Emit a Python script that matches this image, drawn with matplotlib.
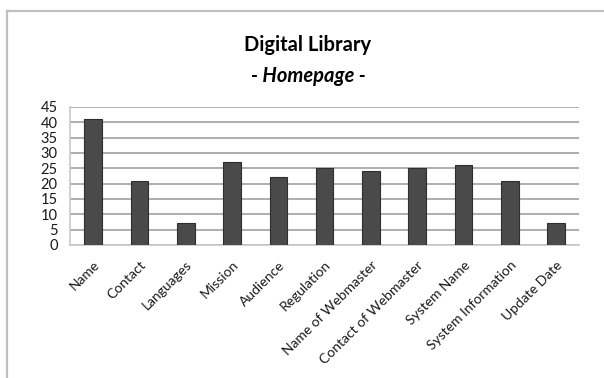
import numpy as np
import matplotlib.pyplot as plt

categories = ["Name", "Contact", "Languages", "Mission", "Audience", "Regulation",
              "Name of Webmaster", "Contact of Webmaster", "System Name",
              "System Information", "Update Date"]
values = [41, 21, 7, 27, 22, 25, 24, 25, 26, 21, 7]
yticks = list(range(0, 50, 5))

plt.rcParams['font.family'] = ['Lato', 'DejaVu Sans']

fig = plt.figure(figsize=(6.04, 3.78), dpi=100)
ax = fig.add_axes([0.116, 0.352, 0.843, 0.365])

x = np.arange(len(categories))
ax.bar(x, values, width=0.38, color='#4a4a4a', edgecolor='#2e2e2e', linewidth=0.8, zorder=3)

ax.set_xlim(-0.5, len(categories) - 0.5)
ax.set_ylim(0, 45)
ax.set_yticks(yticks)
ax.yaxis.grid(True, color='#a8a8a8', linewidth=1.3, zorder=0)
ax.set_xticks(x)
ax.set_xticklabels(categories, rotation=45, ha='right', rotation_mode='anchor')
ax.tick_params(axis='both', length=0, labelcolor='#1a1a1a')
ax.tick_params(axis='y', pad=9, labelsize=10.5)
ax.tick_params(axis='x', pad=10, labelsize=10)

for s in ['top', 'right']:
    ax.spines[s].set_visible(False)
for s in ['left', 'bottom']:
    ax.spines[s].set_color('#c8c8c8')
    ax.spines[s].set_linewidth(1.2)

fig.text(0.51, 0.88, "Digital Library", ha='center', va='center', fontsize=14.5, fontweight='bold')
fig.text(0.51, 0.80, "- Homepage -", ha='center', va='center', fontsize=14.5,
         fontweight='bold', fontstyle='italic')

# outer chart frame (left and top edge only visible in the crop)
fig.add_artist(plt.Line2D([0.0108, 0.0108], [0, 0.971], color='#c0c0c0', linewidth=1.6))
fig.add_artist(plt.Line2D([0.0108, 1.0], [0.971, 0.971], color='#c0c0c0', linewidth=1.6))

fig.savefig("out.png", dpi=100)
